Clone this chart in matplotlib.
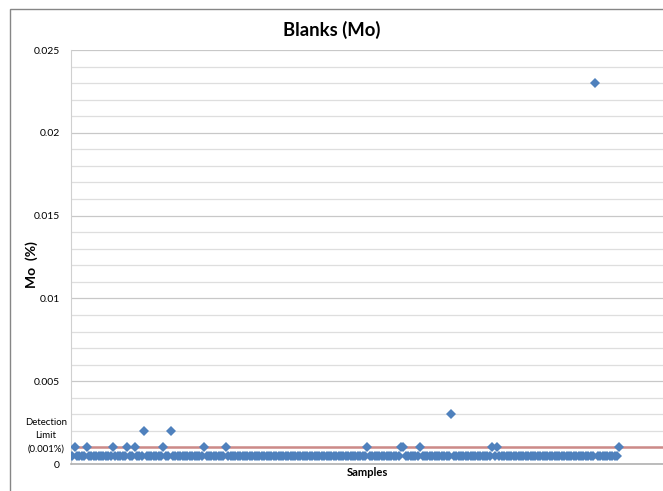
import numpy as np
import matplotlib
matplotlib.use("Agg")
import matplotlib.pyplot as plt
from matplotlib.patches import Rectangle
from matplotlib.ticker import MultipleLocator

plt.rcParams['font.family'] = ['Lato', 'DejaVu Sans']

# Values
n_samples = 229
below_dl = 0.0005          # value plotted for samples below detection
detection_limit = 0.001

# sample numbers (1-based) of samples above the baseline, grouped by value
at_001 = [2, 7, 18, 24, 27, 39, 56, 65, 124, 138, 139, 146, 176, 178, 229]
at_002 = [31, 42]
at_003 = [159]
at_023 = [219]

samples = np.arange(1, n_samples + 1)
mo = np.full(n_samples, below_dl)
for idx, val in [(at_001, 0.001), (at_002, 0.002), (at_003, 0.003), (at_023, 0.023)]:
    mo[np.array(idx) - 1] = val

yticks = [0, 0.005, 0.01, 0.015, 0.02, 0.025]
ytick_labels = ['0', '0.005', '0.01', '0.015', '0.02', '0.025']

W, H = 663, 491
fig = plt.figure(figsize=(W / 100, H / 100), dpi=100)
ax = fig.add_axes([71 / W, 1 - 464 / H, 592 / W, 414 / H])

# chart frame (cropped at right and bottom like the reference)
fig.patches.append(Rectangle((10 / W, -0.05), 1.0, 1 - 9 / H + 0.05,
                             transform=fig.transFigure, fill=False,
                             edgecolor='#868686', linewidth=1.0))

ax.axhline(detection_limit, color='#cc8a88', linewidth=1.8, zorder=2)
ax.plot(samples, mo, linestyle='none', marker='D', markersize=4.8,
        color='#4f81bd', markeredgewidth=0, zorder=3)

ax.set_xlim(0.5, 247.2)
ax.set_ylim(0, 0.025)
ax.set_yticks(yticks)
ax.set_yticklabels(ytick_labels)
ax.yaxis.set_minor_locator(MultipleLocator(0.001))
ax.set_xticks([])
ax.tick_params(axis='y', which='both', length=0, labelsize=7.5, pad=8,
               colors='#000000')
ax.grid(axis='y', which='major', color='#c8c8c8', linewidth=0.9)
ax.grid(axis='y', which='minor', color='#dedede', linewidth=0.9)
ax.set_axisbelow(True)

for side in ['top', 'right']:
    ax.spines[side].set_visible(False)
ax.spines['left'].set_color('#d0d0d0')
ax.spines['bottom'].set_color('#b0b0b0')
ax.spines['bottom'].set_linewidth(1.2)

ax.annotate('Detection\nLimit\n(0.001%)', xy=(0, detection_limit),
            xycoords=('axes fraction', 'data'), xytext=(-3, -4.5),
            textcoords='offset points', ha='right', va='bottom',
            multialignment='center', fontsize=6.9, linespacing=1.6,
            annotation_clip=False)

fig.text(0.5, 1 - 30 / H, 'Blanks (Mo)', ha='center', va='center',
         fontsize=13.3, fontweight='bold')
fig.text(32 / W, 1 - 265 / H, 'Mo  (%)', ha='center', va='center',
         rotation=90, fontsize=10, fontweight='bold')
fig.text(367 / W, 1 - 472 / H, 'Samples', ha='center', va='center',
         fontsize=8, fontweight='bold')

fig.savefig('out.png', dpi=100)
